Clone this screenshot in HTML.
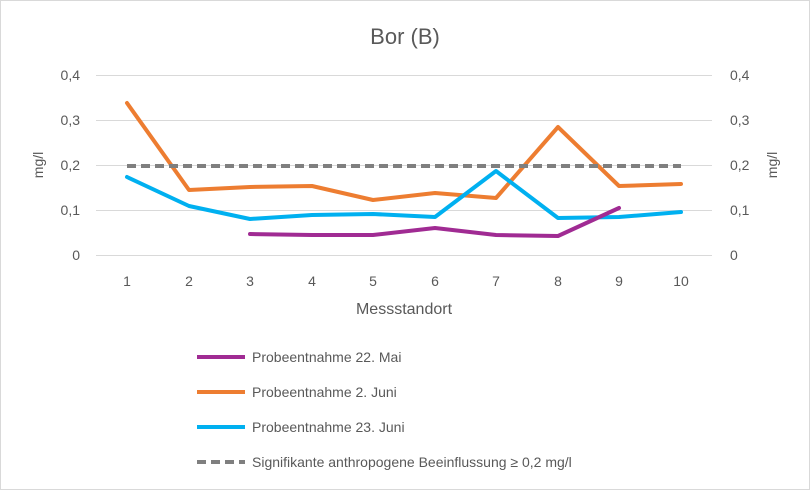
<!DOCTYPE html>
<html><head><meta charset="utf-8"><style>
body{margin:0;background:#fff}
svg{display:block;font-family:"Liberation Sans",sans-serif}
</style></head><body>
<svg width="810" height="490" xmlns="http://www.w3.org/2000/svg">
<rect x="0.5" y="0.5" width="809" height="489" fill="#fff" stroke="#d9d9d9"/>
<text x="405" y="44" font-size="22" fill="#595959" text-anchor="middle">Bor (B)</text>
<g stroke="#d9d9d9" stroke-width="1">
<line x1="96" y1="75.5" x2="712" y2="75.5"/>
<line x1="96" y1="120.5" x2="712" y2="120.5"/>
<line x1="96" y1="165.5" x2="712" y2="165.5"/>
<line x1="96" y1="210.5" x2="712" y2="210.5"/>
<line x1="96" y1="255.5" x2="712" y2="255.5"/>
</g>
<g font-size="14" fill="#595959" text-anchor="end">
<text x="80" y="80">0,4</text><text x="80" y="125">0,3</text><text x="80" y="170">0,2</text><text x="80" y="215">0,1</text><text x="80" y="260">0</text>
</g>
<g font-size="14" fill="#595959" text-anchor="start">
<text x="730" y="80">0,4</text><text x="730" y="125">0,3</text><text x="730" y="170">0,2</text><text x="730" y="215">0,1</text><text x="730" y="260">0</text>
</g>
<g font-size="14" fill="#595959" text-anchor="middle">
<text x="127" y="286">1</text><text x="189" y="286">2</text><text x="250" y="286">3</text><text x="312" y="286">4</text><text x="373" y="286">5</text><text x="435" y="286">6</text><text x="496" y="286">7</text><text x="558" y="286">8</text><text x="619" y="286">9</text><text x="681" y="286">10</text>
<text x="404" y="314" font-size="16">Messstandort</text>
</g>
<text transform="translate(43,165) rotate(-90)" font-size="14" fill="#595959" text-anchor="middle">mg/l</text>
<text transform="translate(777,165) rotate(-90)" font-size="14" fill="#595959" text-anchor="middle">mg/l</text>
<g fill="none" stroke-width="4" stroke-linejoin="round" stroke-linecap="round">
<polyline stroke="#ed7d31" points="127,103 189,190 250,187 312,186 373,200 435,193 496,198 558,127 619,186 681,184"/>
<polyline stroke="#00b0f0" points="127,177 189,206 250,219 312,215 373,214 435,217 496,171 558,218 619,217 681,212"/>
<polyline stroke="#a02b93" points="250,234 312,235 373,235 435,228 496,235 558,236 619,208"/>
<line x1="127" y1="166" x2="681" y2="166" stroke="#7f7f7f" stroke-dasharray="9,5" stroke-linecap="butt"/>
</g>
<g stroke-width="4" fill="none">
<line x1="197" y1="357" x2="245" y2="357" stroke="#a02b93"/>
<line x1="197" y1="392" x2="245" y2="392" stroke="#ed7d31"/>
<line x1="197" y1="427" x2="245" y2="427" stroke="#00b0f0"/>
<line x1="197" y1="462" x2="245" y2="462" stroke="#7f7f7f" stroke-dasharray="9,5"/>
</g>
<g font-size="14" fill="#595959">
<text x="252" y="362">Probeentnahme 22. Mai</text>
<text x="252" y="397">Probeentnahme 2. Juni</text>
<text x="252" y="432">Probeentnahme 23. Juni</text>
<text x="252" y="467">Signifikante anthropogene Beeinflussung ≥ 0,2 mg/l</text>
</g>
</svg>
</body></html>
